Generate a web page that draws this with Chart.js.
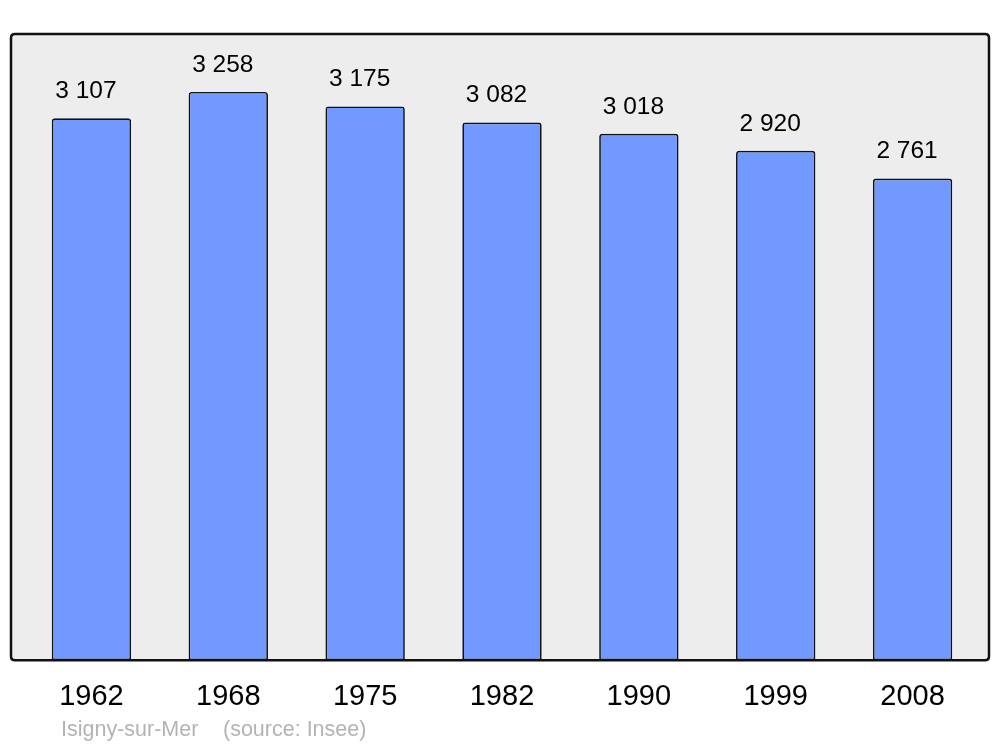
<!DOCTYPE html>
<html>
<head>
<meta charset="utf-8">
<title>Isigny-sur-Mer - population</title>
<script src="https://cdn.jsdelivr.net/npm/chart.js@4/dist/chart.umd.min.js"></script>
<style>
  html, body { margin: 0; padding: 0; background: #ffffff; }
  #wrap { width: 1000px; height: 747px; position: relative; }
</style>
</head>
<body>
<div id="wrap"><canvas id="chart" width="1000" height="747"></canvas></div>
<script>
// données de population (Insee)
const years = ['1962', '1968', '1975', '1982', '1990', '1999', '2008'];
const population = [3107, 3258, 3175, 3082, 3018, 2920, 2761];
const commune = 'Isigny-sur-Mer';
const source = '(source: Insee)';

const FONT = '"Liberation Sans", Arial, sans-serif';

// 3107 -> "3 107"
function formatNumber(n) {
  return String(n).replace(/\B(?=(\d{3})+(?!\d))/g, ' ');
}

function roundRect(ctx, x, y, w, h, r) {
  ctx.beginPath();
  ctx.moveTo(x + r, y);
  ctx.lineTo(x + w - r, y);
  ctx.quadraticCurveTo(x + w, y, x + w, y + r);
  ctx.lineTo(x + w, y + h - r);
  ctx.quadraticCurveTo(x + w, y + h, x + w - r, y + h);
  ctx.lineTo(x + r, y + h);
  ctx.quadraticCurveTo(x, y + h, x, y + h - r);
  ctx.lineTo(x, y + r);
  ctx.quadraticCurveTo(x, y, x + r, y);
  ctx.closePath();
}

// cadre gris derrière les barres
const framePlugin = {
  id: 'frame',
  beforeDatasetsDraw(chart) {
    const ctx = chart.ctx;
    const a = chart.chartArea;
    ctx.save();
    roundRect(ctx, 11, a.top, 978, a.bottom - a.top, 4);
    ctx.fillStyle = '#ededed';
    ctx.fill();
    ctx.restore();
  },
  afterDatasetsDraw(chart) {
    const ctx = chart.ctx;
    const a = chart.chartArea;
    ctx.save();
    roundRect(ctx, 11, a.top, 978, a.bottom - a.top, 4);
    ctx.lineWidth = 2.5;
    ctx.strokeStyle = '#111111';
    ctx.stroke();

    // valeurs au-dessus des barres
    const meta = chart.getDatasetMeta(0);
    ctx.fillStyle = '#000000';
    ctx.font = '24.5px ' + FONT;
    ctx.textAlign = 'center';
    ctx.textBaseline = 'middle';
    meta.data.forEach((bar, i) => {
      ctx.fillText(formatNumber(population[i]), bar.x - 5.5, bar.y - 27);
    });
    ctx.restore();
  },
  afterDraw(chart) {
    const ctx = chart.ctx;
    ctx.save();
    ctx.fillStyle = '#b3b3b3';
    ctx.font = '21.5px ' + FONT;
    ctx.textAlign = 'left';
    ctx.textBaseline = 'middle';
    ctx.fillText(commune, 61, 730);
    ctx.fillText(source, 223, 730);
    ctx.restore();
  }
};

new Chart(document.getElementById('chart'), {
  type: 'bar',
  data: {
    labels: years,
    datasets: [{
      data: population,
      backgroundColor: '#7299ff',
      borderColor: '#111111',
      borderWidth: 1.7,
      borderSkipped: false,
      borderRadius: { topLeft: 3, topRight: 3, bottomLeft: 0, bottomRight: 0 },
      barPercentage: 0.58,
      categoryPercentage: 1
    }]
  },
  options: {
    responsive: false,
    animation: false,
    layout: { padding: { left: 23, right: 19, top: 34, bottom: 14 } },
    plugins: {
      legend: { display: false },
      tooltip: { enabled: false }
    },
    scales: {
      x: {
        grid: { display: false, drawTicks: false },
        border: { display: false },
        ticks: {
          color: '#000000',
          padding: 19,
          font: { family: FONT, size: 29 }
        }
      },
      y: {
        display: false,
        min: 0,
        max: 3590
      }
    }
  },
  plugins: [framePlugin]
});
</script>
</body>
</html>
